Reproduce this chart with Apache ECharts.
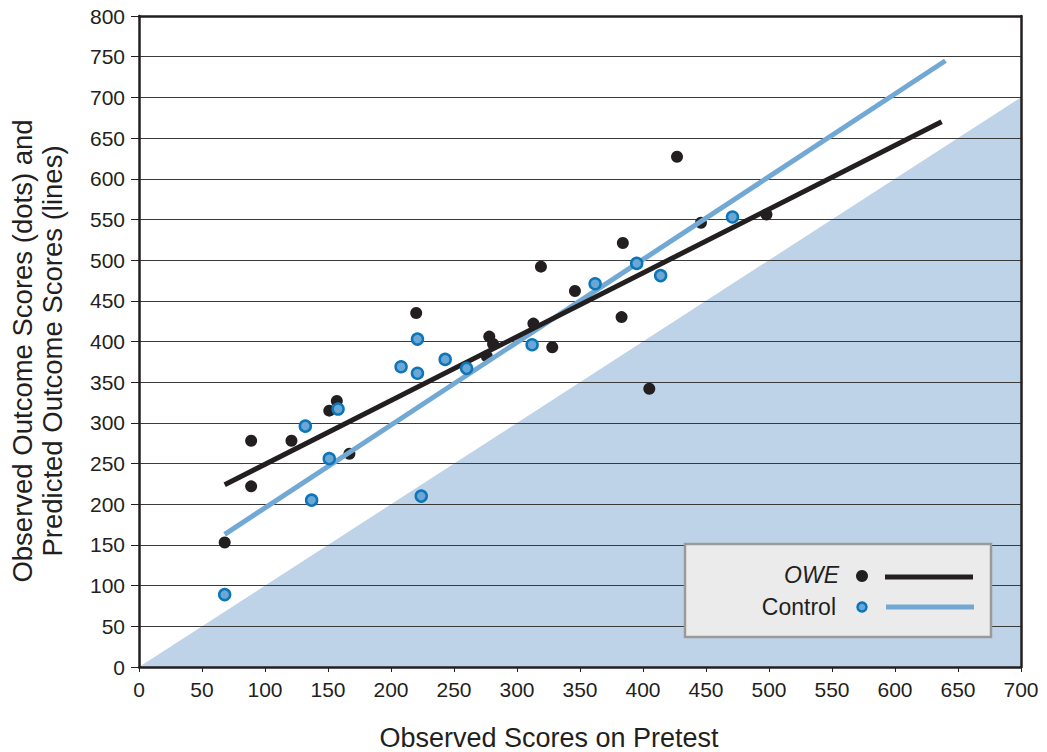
<!DOCTYPE html>
<html>
<head>
<meta charset="utf-8">
<script src="https://cdn.jsdelivr.net/npm/echarts@6/dist/echarts.min.js"></script>
<style>
html,body{margin:0;padding:0;background:#fff;}
#chart{width:1047px;height:752px;}
</style>
</head>
<body>
<div id="chart"></div>
<script>
// Data
var oweDots = [[68,153],[89,278],[89,222],[121,278],[151,315],[157,327],[167,262],[220,435],[276,382],[278,406],[281,397],[313,422],[319,492],[328,393],[346,462],[383,430],[384,521],[405,342],[427,627],[446,546],[498,556]];
var controlDots = [[68,89],[132,296],[137,205],[151,256],[158,317],[208,369],[221,403],[221,361],[224,210],[243,378],[260,367],[312,396],[362,471],[395,496],[414,481],[471,553]];
var oweLine = [[68,224],[637,670]];
var controlLine = [[68,163],[640,745]];
var diagonal = [[0,0],[700,700]];
var xTitle = 'Observed Scores on Pretest';
var yTitle = 'Observed Outcome Scores (dots) and\nPredicted Outcome Scores (lines)';
var legendNames = ['OWE', 'Control'];

var FONT = '"Liberation Sans", Arial, Helvetica, sans-serif';
var INK = '#231f20';
var chart = echarts.init(document.getElementById('chart'), null, {renderer: 'svg'});

var axisLabelStyle = {color: INK, fontSize: 21, fontFamily: FONT};
chart.setOption({
  animation: false,
  backgroundColor: '#ffffff',
  grid: {left: 139, right: 26, top: 16, bottom: 85, containLabel: false},
  xAxis: [{
    type: 'value', min: 0, max: 700, interval: 50, position: 'bottom',
    axisLine: {show: true, onZero: false, lineStyle: {color: INK, width: 2.5}},
    axisTick: {show: true, length: 5, lineStyle: {color: INK, width: 1}},
    axisLabel: Object.assign({margin: 12}, axisLabelStyle),
    splitLine: {show: false}
  }, {
    type: 'value', min: 0, max: 700, interval: 50, position: 'top',
    axisLine: {show: true, onZero: false, lineStyle: {color: INK, width: 2.5}},
    axisTick: {show: false}, axisLabel: {show: false}, splitLine: {show: false}
  }],
  yAxis: [{
    type: 'value', min: 0, max: 800, interval: 50, position: 'left',
    axisLine: {show: true, onZero: false, lineStyle: {color: INK, width: 2.5}},
    axisTick: {show: true, length: 8, lineStyle: {color: INK, width: 1}},
    axisLabel: Object.assign({margin: 14}, axisLabelStyle),
    splitLine: {show: true, lineStyle: {color: '#3a3a3a', width: 1}}
  }, {
    type: 'value', min: 0, max: 800, interval: 50, position: 'right',
    axisLine: {show: true, onZero: false, lineStyle: {color: INK, width: 2.5}},
    axisTick: {show: false}, axisLabel: {show: false}, splitLine: {show: false}
  }],
  series: [
    {
      type: 'line', data: diagonal, symbol: 'none', silent: true, z: -1,
      lineStyle: {width: 0, color: '#bed3e7'},
      areaStyle: {color: '#bed3e7', opacity: 1}
    },
    {
      name: legendNames[0], type: 'scatter', data: oweDots, symbolSize: 12, z: 3,
      itemStyle: {color: INK, opacity: 1}
    },
    {
      type: 'line', data: controlLine, symbol: 'none', z: 4,
      lineStyle: {color: '#72a9d4', width: 5, cap: 'butt'}
    },
    {
      type: 'line', data: oweLine, symbol: 'none', z: 5,
      lineStyle: {color: INK, width: 5, cap: 'butt'}
    },
    {
      name: legendNames[1], type: 'scatter', data: controlDots, symbolSize: 11, z: 6,
      itemStyle: {color: '#6ba7d5', borderColor: '#0d76b8', borderWidth: 2.5, opacity: 1}
    }
  ],
  graphic: [
    {type: 'text', x: 549, y: 738, z: 100,
     style: {text: xTitle, fontSize: 27, fontFamily: FONT, fill: INK, align: 'center', verticalAlign: 'middle'}},
    {type: 'text', x: 37, y: 351, rotation: Math.PI / 2, z: 100,
     style: {text: yTitle, fontSize: 27.5, lineHeight: 30, fontFamily: FONT, fill: INK, align: 'center', verticalAlign: 'middle'}},
    {type: 'rect', z: 100, shape: {x: 685, y: 544, width: 306, height: 93},
     style: {fill: '#ebebeb', stroke: '#9a9a9a', lineWidth: 2.5}},
    {type: 'text', x: 839, y: 575, z: 101,
     style: {text: legendNames[0], fontSize: 23, fontStyle: 'italic', fontFamily: FONT, fill: INK, align: 'right', verticalAlign: 'middle'}},
    {type: 'text', x: 836, y: 607, z: 101,
     style: {text: legendNames[1], fontSize: 23, fontFamily: FONT, fill: INK, align: 'right', verticalAlign: 'middle'}},
    {type: 'circle', z: 101, shape: {cx: 862, cy: 576, r: 6}, style: {fill: INK}},
    {type: 'circle', z: 101, shape: {cx: 862, cy: 607, r: 4.5}, style: {fill: '#6ba7d5', stroke: '#0d76b8', lineWidth: 2.5}},
    {type: 'line', z: 101, shape: {x1: 885, y1: 577, x2: 973, y2: 577}, style: {stroke: INK, lineWidth: 5}},
    {type: 'line', z: 101, shape: {x1: 886, y1: 607, x2: 974, y2: 607}, style: {stroke: '#72a9d4', lineWidth: 5}}
  ]
});
</script>
</body>
</html>
